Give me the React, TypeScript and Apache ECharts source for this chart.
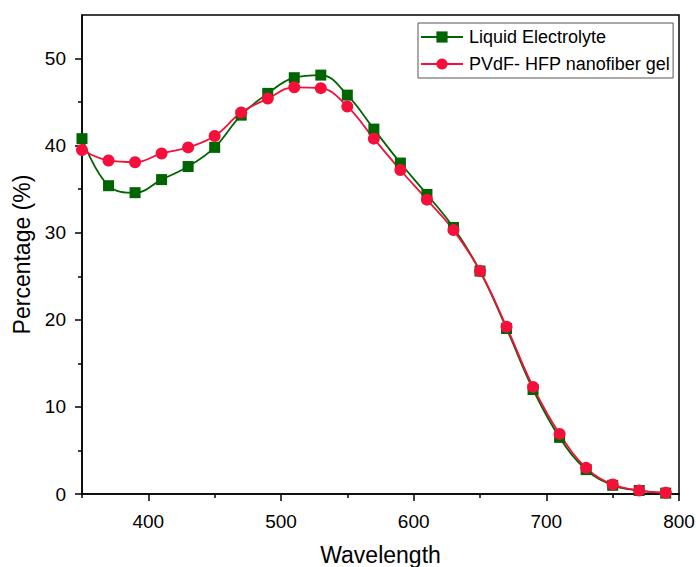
import React, { useEffect, useRef } from 'react';
import * as echarts from 'echarts';

const wavelengths = [350, 370, 390, 410, 430, 450, 470, 490, 510, 530, 550, 570, 590, 610, 630, 650, 670, 690, 710, 730, 750, 770, 790];
const liquidElectrolyte = [40.8, 35.4, 34.6, 36.1, 37.6, 39.8, 43.5, 46.0, 47.8, 48.1, 45.8, 41.9, 38.0, 34.4, 30.6, 25.6, 19.0, 12.0, 6.5, 2.8, 1.0, 0.4, 0.1];
const pvdfGel = [39.5, 38.3, 38.1, 39.1, 39.8, 41.1, 43.8, 45.4, 46.7, 46.6, 44.5, 40.8, 37.2, 33.8, 30.3, 25.6, 19.2, 12.3, 6.9, 3.0, 1.1, 0.4, 0.15];
const xMajor = [400, 500, 600, 700, 800];
const xMinor = [350, 450, 550, 650, 750];
const yMajor = [0, 10, 20, 30, 40, 50];
const yMinor = [5, 15, 25, 35, 45];

const FONT = '"Liberation Sans", Arial, sans-serif';
const GREEN = '#006400';
const RED = '#f5103c';

export default function App() {
  const ref = useRef<HTMLDivElement>(null);
  useEffect(() => {
    if (!ref.current) return;
    const chart = echarts.init(ref.current, undefined, { renderer: 'svg' });
    const axisLine = { show: true, lineStyle: { color: '#000', width: 1.5 } };
    chart.setOption({
      animation: false,
      backgroundColor: '#fff',
      textStyle: { fontFamily: FONT },
      grid: {
        left: 82, right: 17, top: 15, bottom: 73,
        containLabel: false,
        outerBoundsMode: 'none',
        show: true, borderColor: '#000', borderWidth: 1.5, backgroundColor: '#fff',
      },
      legend: {
        left: 418, top: 23,
        orient: 'vertical',
        itemWidth: 42, itemHeight: 14, itemGap: 9,
        padding: [5, 3, 5, 2],
        borderColor: '#555', borderWidth: 1,
        textStyle: { fontFamily: FONT, fontSize: 18, color: '#000', padding: [0, 0, 0, 1] },
        data: ['Liquid Electrolyte', 'PVdF- HFP nanofiber gel'],
      },
      xAxis: [
        {
          type: 'value', min: 350, max: 800, interval: 50,
          name: 'Wavelength', nameLocation: 'middle', nameGap: 49,
          nameTextStyle: { fontFamily: FONT, fontSize: 23, color: '#000' },
          axisLine,
          axisTick: { show: true, length: 7, customValues: xMajor, lineStyle: { color: '#000', width: 1.5 } },
          axisLabel: { customValues: xMajor, fontFamily: FONT, fontSize: 19, color: '#000', margin: 18 },
          splitLine: { show: false },
        },
        {
          type: 'value', min: 350, max: 800, interval: 50, position: 'bottom',
          axisLine: { show: false },
          axisTick: { show: true, length: 4, customValues: xMinor, lineStyle: { color: '#000', width: 1.5 } },
          axisLabel: { show: false },
          splitLine: { show: false },
        },
      ],
      yAxis: [
        {
          type: 'value', min: 0, max: 55, interval: 5,
          name: 'Percentage (%)', nameLocation: 'middle', nameGap: 42,
          nameTextStyle: { fontFamily: FONT, fontSize: 23, color: '#000' },
          axisLine,
          axisTick: { show: true, length: 7, customValues: yMajor, lineStyle: { color: '#000', width: 1.5 } },
          axisLabel: { customValues: yMajor, fontFamily: FONT, fontSize: 19, color: '#000', margin: 16 },
          splitLine: { show: false },
        },
        {
          type: 'value', min: 0, max: 55, interval: 5, position: 'left',
          axisLine: { show: false },
          axisTick: { show: true, length: 4, customValues: yMinor, lineStyle: { color: '#000', width: 1.5 } },
          axisLabel: { show: false },
          splitLine: { show: false },
        },
      ],
      series: [
        {
          name: 'Liquid Electrolyte',
          type: 'line',
          smooth: 0.4,
          symbol: 'rect',
          symbolSize: 11,
          lineStyle: { color: GREEN, width: 1.8 },
          itemStyle: { color: GREEN },
          data: wavelengths.map((w, i) => [w, liquidElectrolyte[i]]),
        },
        {
          name: 'PVdF- HFP nanofiber gel',
          type: 'line',
          smooth: 0.4,
          symbol: 'circle',
          symbolSize: 12,
          lineStyle: { color: RED, width: 1.8 },
          itemStyle: { color: RED },
          data: wavelengths.map((w, i) => [w, pvdfGel[i]]),
        },
      ],
    });
    return () => chart.dispose();
  }, []);
  return <div ref={ref} style={{ position: 'fixed', left: 0, top: 0, width: 696, height: 567 }} />;
}
